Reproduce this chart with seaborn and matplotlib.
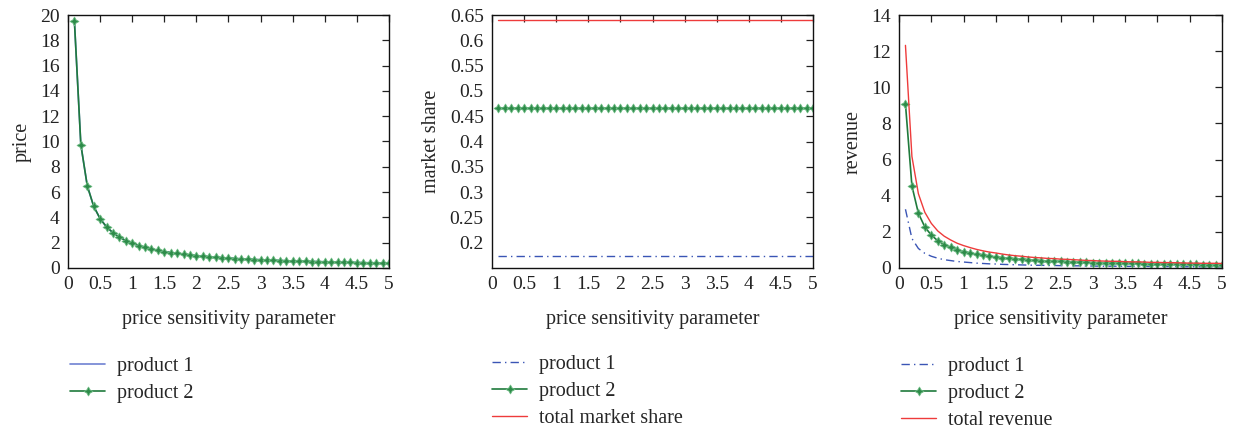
import matplotlib
matplotlib.use("Agg")
import matplotlib.pyplot as plt
import seaborn as sns
from matplotlib.lines import Line2D

# ---------------- data ----------------
x_vals = [0.1, 0.2, 0.3, 0.4, 0.5, 0.6, 0.7, 0.8, 0.9, 1.0,
          1.1, 1.2, 1.3, 1.4, 1.5, 1.6, 1.7, 1.8, 1.9, 2.0,
          2.1, 2.2, 2.3, 2.4, 2.5, 2.6, 2.7, 2.8, 2.9, 3.0,
          3.1, 3.2, 3.3, 3.4, 3.5, 3.6, 3.7, 3.8, 3.9, 4.0,
          4.1, 4.2, 4.3, 4.4, 4.5, 4.6, 4.7, 4.8, 4.9, 5.0]

price_p1 = [19.5, 9.75, 6.5, 4.88, 3.9, 3.25, 2.79, 2.44, 2.17, 1.95,
            1.77, 1.63, 1.5, 1.39, 1.3, 1.22, 1.15, 1.08, 1.03, 0.98,
            0.93, 0.89, 0.85, 0.81, 0.78, 0.75, 0.72, 0.70, 0.67, 0.65,
            0.63, 0.61, 0.59, 0.57, 0.56, 0.54, 0.53, 0.51, 0.50, 0.49,
            0.48, 0.46, 0.45, 0.44, 0.43, 0.42, 0.41, 0.41, 0.40, 0.39]
price_p2 = [19.5, 9.75, 6.5, 4.88, 3.9, 3.25, 2.79, 2.44, 2.17, 1.95,
            1.77, 1.63, 1.5, 1.39, 1.3, 1.22, 1.15, 1.08, 1.03, 0.98,
            0.93, 0.89, 0.85, 0.81, 0.78, 0.75, 0.72, 0.70, 0.67, 0.65,
            0.63, 0.61, 0.59, 0.57, 0.56, 0.54, 0.53, 0.51, 0.50, 0.49,
            0.48, 0.46, 0.45, 0.44, 0.43, 0.42, 0.41, 0.41, 0.40, 0.39]

share_p1 = [0.173, 0.173, 0.173, 0.173, 0.173, 0.173, 0.173, 0.173, 0.173, 0.173,
            0.173, 0.173, 0.173, 0.173, 0.173, 0.173, 0.173, 0.173, 0.173, 0.173,
            0.173, 0.173, 0.173, 0.173, 0.173, 0.173, 0.173, 0.173, 0.173, 0.173,
            0.173, 0.173, 0.173, 0.173, 0.173, 0.173, 0.173, 0.173, 0.173, 0.173,
            0.173, 0.173, 0.173, 0.173, 0.173, 0.173, 0.173, 0.173, 0.173, 0.173]
share_p2 = [0.466, 0.466, 0.466, 0.466, 0.466, 0.466, 0.466, 0.466, 0.466, 0.466,
            0.466, 0.466, 0.466, 0.466, 0.466, 0.466, 0.466, 0.466, 0.466, 0.466,
            0.466, 0.466, 0.466, 0.466, 0.466, 0.466, 0.466, 0.466, 0.466, 0.466,
            0.466, 0.466, 0.466, 0.466, 0.466, 0.466, 0.466, 0.466, 0.466, 0.466,
            0.466, 0.466, 0.466, 0.466, 0.466, 0.466, 0.466, 0.466, 0.466, 0.466]
share_total = [0.640, 0.640, 0.640, 0.640, 0.640, 0.640, 0.640, 0.640, 0.640, 0.640,
               0.640, 0.640, 0.640, 0.640, 0.640, 0.640, 0.640, 0.640, 0.640, 0.640,
               0.640, 0.640, 0.640, 0.640, 0.640, 0.640, 0.640, 0.640, 0.640, 0.640,
               0.640, 0.640, 0.640, 0.640, 0.640, 0.640, 0.640, 0.640, 0.640, 0.640,
               0.640, 0.640, 0.640, 0.640, 0.640, 0.640, 0.640, 0.640, 0.640, 0.640]

rev_p1 = [3.25, 1.63, 1.08, 0.81, 0.65, 0.54, 0.46, 0.41, 0.36, 0.33,
          0.30, 0.27, 0.25, 0.23, 0.22, 0.20, 0.19, 0.18, 0.17, 0.16,
          0.15, 0.15, 0.14, 0.14, 0.13, 0.13, 0.12, 0.12, 0.11, 0.11,
          0.10, 0.10, 0.10, 0.10, 0.09, 0.09, 0.09, 0.09, 0.08, 0.08,
          0.08, 0.08, 0.08, 0.07, 0.07, 0.07, 0.07, 0.07, 0.07, 0.07]
rev_p2 = [9.07, 4.54, 3.03, 2.27, 1.82, 1.51, 1.30, 1.14, 1.01, 0.91,
          0.83, 0.76, 0.70, 0.65, 0.61, 0.57, 0.53, 0.50, 0.48, 0.45,
          0.43, 0.41, 0.39, 0.38, 0.36, 0.35, 0.34, 0.32, 0.31, 0.30,
          0.29, 0.28, 0.27, 0.27, 0.26, 0.25, 0.25, 0.24, 0.23, 0.23,
          0.22, 0.22, 0.21, 0.21, 0.20, 0.20, 0.19, 0.19, 0.19, 0.18]
rev_total = [12.32, 6.17, 4.11, 3.08, 2.47, 2.05, 1.76, 1.55, 1.37, 1.24,
             1.13, 1.03, 0.95, 0.88, 0.83, 0.77, 0.72, 0.68, 0.65, 0.61,
             0.58, 0.56, 0.53, 0.52, 0.49, 0.48, 0.46, 0.44, 0.42, 0.41,
             0.39, 0.38, 0.37, 0.37, 0.35, 0.34, 0.34, 0.33, 0.31, 0.31,
             0.30, 0.30, 0.29, 0.28, 0.27, 0.27, 0.26, 0.26, 0.26, 0.25]

x_ticks = [0, 0.5, 1, 1.5, 2, 2.5, 3, 3.5, 4, 4.5, 5]
x_tick_labels = ["0", "0.5", "1", "1.5", "2", "2.5", "3", "3.5", "4", "4.5", "5"]
price_ticks = [0, 2, 4, 6, 8, 10, 12, 14, 16, 18, 20]
share_ticks = [0.2, 0.25, 0.3, 0.35, 0.4, 0.45, 0.5, 0.55, 0.6, 0.65]
share_tick_labels = ["0.2", "0.25", "0.3", "0.35", "0.4", "0.45", "0.5", "0.55", "0.6", "0.65"]
rev_ticks = [0, 2, 4, 6, 8, 10, 12, 14]

x_label = "price sensitivity parameter"
label_p1 = "product 1"
label_p2 = "product 2"
label_total_share = "total market share"
label_total_rev = "total revenue"

# ---------------- style ----------------
sns.set_theme(style="white")
plt.rcParams["font.family"] = ["Liberation Serif", "DejaVu Serif"]

BLUE_LIGHT = "#6f82d2"
BLUE = "#3a55b5"
GREEN = "#1f7a3c"
GREEN_M = "#2e8b4a"
GREEN_E = "#6dbb83"
RED = "#ee3b3b"
TICK_FS = 14
LABEL_FS = 14.5
LEG_FS = 14.5
DASHDOT = (0, (6, 3, 1, 3))

fig = plt.figure(figsize=(12.37, 4.29), dpi=100)
W, H = 1237.0, 429.0

def axes_px(left, right, top, bottom):
    return fig.add_axes([left / W, 1 - bottom / H, (right - left) / W, (bottom - top) / H])

ax1 = axes_px(68, 389, 15, 268)
ax2 = axes_px(492, 813, 15, 268)
ax3 = axes_px(899, 1222, 15, 268)

STAR = (4, 1, 0)
mk = dict(marker=STAR, markersize=6.5, markerfacecolor=GREEN_M, markeredgecolor=GREEN_E,
          markeredgewidth=0.6)

# panel 1
sns.lineplot(x=x_vals, y=price_p1, ax=ax1, color=BLUE_LIGHT, linewidth=1.2, legend=False)
sns.lineplot(x=x_vals, y=price_p2, ax=ax1, color=GREEN, linewidth=1.2, legend=False, **mk)
ax1.set_ylim(0, 20)
ax1.set_yticks(price_ticks)
ax1.set_yticklabels([str(t) for t in price_ticks])
ax1.set_ylabel("price", fontsize=LABEL_FS, labelpad=6)

# panel 2
sns.lineplot(x=x_vals, y=share_p1, ax=ax2, color=BLUE, linewidth=1.0, linestyle=DASHDOT, legend=False)
sns.lineplot(x=x_vals, y=share_p2, ax=ax2, color=GREEN, linewidth=1.2, legend=False, **mk)
sns.lineplot(x=x_vals, y=share_total, ax=ax2, color=RED, linewidth=1.0, legend=False)
ax2.set_ylim(0.15, 0.65)
ax2.set_yticks(share_ticks)
ax2.set_yticklabels(share_tick_labels)
ax2.set_ylabel("market share", fontsize=LABEL_FS, labelpad=6)

# panel 3
sns.lineplot(x=x_vals, y=rev_p1, ax=ax3, color=BLUE, linewidth=1.0, linestyle=DASHDOT, legend=False)
sns.lineplot(x=x_vals, y=rev_p2, ax=ax3, color=GREEN, linewidth=1.2, legend=False, **mk)
sns.lineplot(x=x_vals, y=rev_total, ax=ax3, color=RED, linewidth=1.0, legend=False)
ax3.set_ylim(0, 14)
ax3.set_yticks(rev_ticks)
ax3.set_yticklabels([str(t) for t in rev_ticks])
ax3.set_ylabel("revenue", fontsize=LABEL_FS, labelpad=6)

for ax in (ax1, ax2, ax3):
    ax.set_xlim(0, 5)
    ax.set_xticks(x_ticks)
    ax.set_xticklabels(x_tick_labels)
    ax.set_xlabel(x_label, fontsize=LABEL_FS, labelpad=12)
    ax.tick_params(direction="in", length=5, width=0.9, top=True, right=True,
                   labelsize=TICK_FS, colors="#222222", pad=6)
    for s in ax.spines.values():
        s.set_color("#111111")
        s.set_linewidth(1.0)
    ax.grid(False)

# legends
h_p1_solid = Line2D([], [], color=BLUE_LIGHT, linewidth=1.2)
h_p1_dash = Line2D([], [], color=BLUE, linewidth=1.0, linestyle=DASHDOT)
h_p2 = Line2D([], [], color=GREEN, linewidth=1.2, **mk)
h_tot = Line2D([], [], color=RED, linewidth=1.0)

leg_kw = dict(frameon=False, fontsize=LEG_FS, handlelength=1.75, handletextpad=0.6,
              labelspacing=0.38, borderaxespad=0, borderpad=0, loc="upper left")

def add_leg(handles, labels, left_px, top_px):
    fig.legend(handles, labels, bbox_to_anchor=(left_px / W, 1 - top_px / H), **leg_kw)

add_leg([h_p1_solid, h_p2], [label_p1, label_p2], 70, 357)
add_leg([h_p1_dash, h_p2, h_tot], [label_p1, label_p2, label_total_share], 492, 355)
add_leg([h_p1_dash, h_p2, h_tot], [label_p1, label_p2, label_total_rev], 901, 357)

fig.savefig("out.png", dpi=100)
